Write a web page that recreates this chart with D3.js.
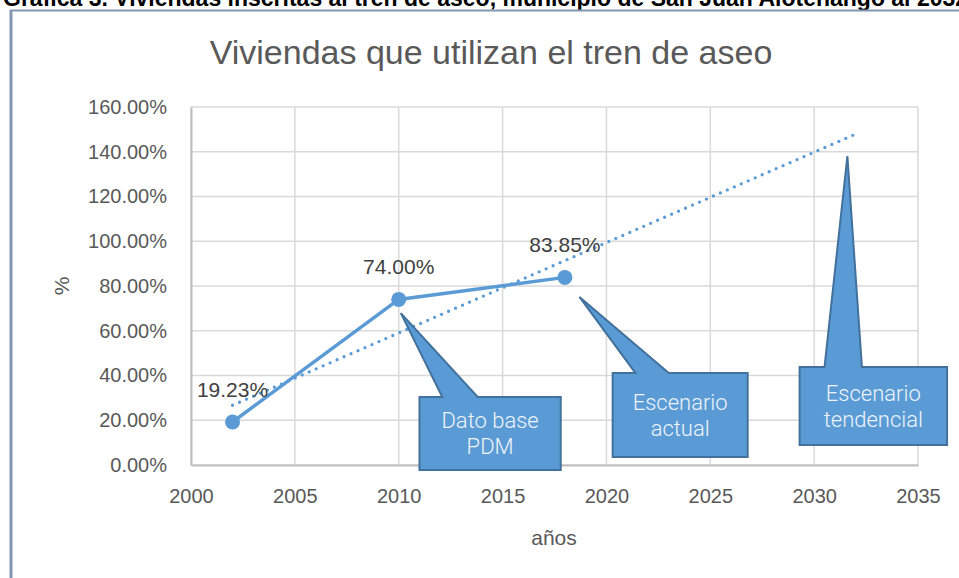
<!DOCTYPE html>
<html>
<head>
<meta charset="utf-8">
<script src="https://cdn.jsdelivr.net/npm/d3@7"></script>
<style>
  body { margin: 0; background: #fff; }
  svg { display: block; font-family: "Liberation Sans", Arial, sans-serif; }
</style>
</head>
<body>
<svg width="959" height="578"></svg>
<script>
// series values
var years = [2002, 2010, 2018];
var values = [19.23, 74.00, 83.85];

// linear trend line end points
var trendYears = [2002, 2032];
var trendValues = [26.7, 147.9];

// tick labels
var xTicks = [2000, 2005, 2010, 2015, 2020, 2025, 2030, 2035];
var yTicks = [0, 20, 40, 60, 80, 100, 120, 140, 160];

// callouts: text lines, tip point, box corners and pointer base, all in data units
var calloutText = [['Dato base', 'PDM'], ['Escenario', 'actual'], ['Escenario', 'tendencial']];
var calloutTip = [[2010.1, 67.9], [2018.7, 75.1], [2031.6, 138.1]];
var calloutBox = [[2011.0, 2017.8, 30.4, -2.2], [2020.3, 2026.8, 41.1, 3.6], [2029.3, 2036.4, 43.8, 8.9]];
var calloutBase = [[2012.1, 2013.8], [2021.4, 2023.0], [2030.5, 2032.3]];

var svg = d3.select('svg');

var padding = {t: 107, r: 41, b: 113, l: 191};
var svgWidth = +svg.attr('width');
var svgHeight = +svg.attr('height');

var x = d3.scaleLinear().domain([2000, 2035]).range([padding.l, svgWidth - padding.r]);
var y = d3.scaleLinear().domain([0, 160]).range([svgHeight - padding.b, padding.t]);

var blue = '#5b9bd5';
var darkBlue = '#41719c';
var textGray = '#595959';

//cropped heading of the page above the chart
svg.append('text')
    .attr('x', 3)
    .attr('y', 6)
    .style('font-size', '23px')
    .style('font-weight', 700)
    .style('fill', '#000')
    .text('Gráfica 3. Viviendas inscritas al tren de aseo, municipio de San Juan Alotenango al 2032');

//outer chart frame (top and left edges visible)
svg.append('line')
    .attr('x1', 10).attr('x2', svgWidth)
    .attr('y1', 10.5).attr('y2', 10.5)
    .style('stroke', '#8497b0').style('stroke-width', 2);
svg.append('line')
    .attr('x1', 11).attr('x2', 11)
    .attr('y1', 10).attr('y2', svgHeight)
    .style('stroke', '#8497b0').style('stroke-width', 3);

//title
svg.append('text')
    .attr('x', 491)
    .attr('y', 64)
    .attr('text-anchor', 'middle')
    .style('font-size', '34px')
    .style('fill', textGray)
    .text('Viviendas que utilizan el tren de aseo');

//gridlines
svg.append('g')
    .selectAll('line')
    .data(yTicks)
    .enter()
    .append('line')
    .attr('x1', x(2000)).attr('x2', x(2035))
    .attr('y1', function(d) {return y(d);})
    .attr('y2', function(d) {return y(d);})
    .style('stroke', '#d9d9d9').style('stroke-width', 1.5);

svg.append('g')
    .selectAll('line')
    .data(xTicks)
    .enter()
    .append('line')
    .attr('x1', function(d) {return x(d);})
    .attr('x2', function(d) {return x(d);})
    .attr('y1', y(0)).attr('y2', y(160))
    .style('stroke', '#d9d9d9').style('stroke-width', 1.5);

//axes
var xAxis = d3.axisBottom(x).tickValues(xTicks).tickSize(0).tickPadding(24).tickFormat(d3.format('d'));
var yAxis = d3.axisLeft(y).tickValues(yTicks).tickSize(0).tickPadding(24)
    .tickFormat(function(d) {return d.toFixed(2) + '%';});

var xG = svg.append('g')
    .attr('transform', 'translate(0,' + y(0) + ')')
    .call(xAxis);
var yG = svg.append('g')
    .attr('transform', 'translate(' + x(2000) + ',0)')
    .call(yAxis);

[xG, yG].forEach(function(g) {
    g.select('.domain').style('stroke', '#bfbfbf').style('stroke-width', 2);
    g.selectAll('text')
        .style('font-size', '20px')
        .style('font-family', '"Liberation Sans", Arial, sans-serif')
        .style('fill', textGray);
});

//axis titles
svg.append('text')
    .attr('x', 554)
    .attr('y', 545)
    .attr('text-anchor', 'middle')
    .style('font-size', '21px')
    .style('fill', textGray)
    .text('años');

svg.append('text')
    .attr('transform', 'translate(69,286) rotate(-90)')
    .attr('text-anchor', 'middle')
    .style('font-size', '21px')
    .style('fill', textGray)
    .text('%');

//trend line (dotted)
svg.append('path')
    .datum(d3.zip(trendYears, trendValues))
    .attr('d', d3.line()
        .x(function(d) {return x(d[0]);})
        .y(function(d) {return y(d[1]);}))
    .style('fill', 'none')
    .style('stroke', blue)
    .style('stroke-width', 3.3)
    .style('stroke-linecap', 'round')
    .style('stroke-dasharray', '0,7.6');

//series line
var points = d3.zip(years, values);
svg.append('path')
    .datum(points)
    .attr('d', d3.line()
        .x(function(d) {return x(d[0]);})
        .y(function(d) {return y(d[1]);}))
    .style('fill', 'none')
    .style('stroke', blue)
    .style('stroke-width', 3.5);

svg.selectAll('circle.marker')
    .data(points)
    .enter()
    .append('circle')
    .attr('class', 'marker')
    .attr('cx', function(d) {return x(d[0]);})
    .attr('cy', function(d) {return y(d[1]);})
    .attr('r', 7.5)
    .style('fill', blue);

//data labels
svg.selectAll('text.label')
    .data(points)
    .enter()
    .append('text')
    .attr('class', 'label')
    .attr('x', function(d) {return x(d[0]);})
    .attr('y', function(d) {return y(d[1]) - 25;})
    .attr('text-anchor', 'middle')
    .style('font-size', '21px')
    .style('fill', '#404040')
    .text(function(d) {return d[1].toFixed(2) + '%';});

//callouts
calloutText.forEach(function(lines, i) {
    var b = calloutBox[i];
    var x0 = x(b[0]), x1 = x(b[1]), y0 = y(b[2]), y1 = y(b[3]);
    var tip = calloutTip[i];
    var path = d3.path();
    path.moveTo(x0, y0);
    path.lineTo(x(calloutBase[i][0]), y0);
    path.lineTo(x(tip[0]), y(tip[1]));
    path.lineTo(x(calloutBase[i][1]), y0);
    path.lineTo(x1, y0);
    path.lineTo(x1, y1);
    path.lineTo(x0, y1);
    path.closePath();

    svg.append('path')
        .attr('d', path.toString())
        .style('fill', blue)
        .style('stroke', darkBlue)
        .style('stroke-width', 2)
        .style('stroke-linejoin', 'miter');

    var cx = (x0 + x1) / 2;
    var top = (y0 + y1) / 2 - 26 / 2 + 8;
    lines.forEach(function(line, j) {
        svg.append('text')
            .attr('x', cx)
            .attr('y', top + j * 26)
            .attr('text-anchor', 'middle')
            .style('font-family', 'Roboto, "Liberation Sans", sans-serif')
            .style('font-weight', 300)
            .style('font-size', '22px')
            .style('fill', '#eef3fa')
            .text(line);
    });
});
</script>
</body>
</html>
